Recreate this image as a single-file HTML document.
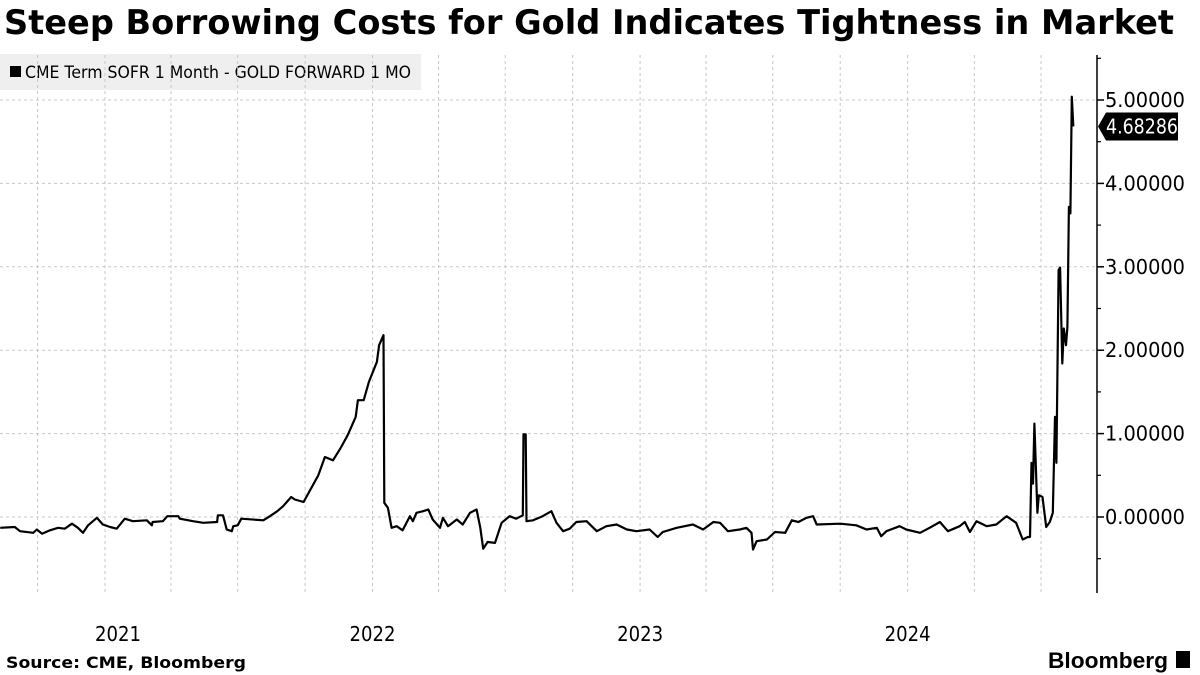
<!DOCTYPE html>
<html><head><meta charset="utf-8">
<style>
html,body{margin:0;padding:0;background:#fff;}
body{width:1200px;height:675px;overflow:hidden;position:relative;font-family:"Liberation Sans",sans-serif;}
svg{position:absolute;left:0;top:0;}
</style></head>
<body>
<svg id="chart" width="1200" height="675">
  <text x="4" y="34" font-size="34" font-weight="bold" font-family="DejaVu Sans, Liberation Sans, sans-serif" textLength="1170" lengthAdjust="spacingAndGlyphs">Steep Borrowing Costs for Gold Indicates Tightness in Market</text>
  <rect x="0" y="54" width="421" height="36" fill="#efefef"/>
  <rect x="10" y="66" width="11" height="11" fill="#000"/>
  <text x="25" y="78" font-size="17" font-family="DejaVu Sans, Liberation Sans, sans-serif" textLength="386" lengthAdjust="spacingAndGlyphs">CME Term SOFR 1 Month - GOLD FORWARD 1 MO</text>
  <text x="6" y="668" font-size="16" font-weight="bold" font-family="DejaVu Sans, Liberation Sans, sans-serif" textLength="240" lengthAdjust="spacingAndGlyphs">Source: CME, Bloomberg</text>
  <text x="1048" y="668" font-size="22" font-weight="bold" font-family="Liberation Sans, sans-serif" textLength="120" lengthAdjust="spacingAndGlyphs">Bloomberg</text>
  <rect x="1176" y="651" width="14" height="17" fill="#000"/>
</svg>
<script>
// days since 2021-01-01
const days = [-143,-123,-116,-98,-93,-86,-75,-64,-55,-45,-37,-30,-23,-11,-3,7,16,27,38,57,64,65,79,85,100,102,120,134,153,154,161,166,173,175,181,186,216,225,235,243,254,259,271,291,300,311,321,331,342,345,353,360,371,374,380,381,386,391,398,406,416,420,425,434,441,447,457,461,468,480,488,498,507,512,516,522,532,541,552,561,570,571,574,575,584,597,609,616,625,634,643,657,671,684,698,712,725,743,754,761,780,802,816,830,839,850,866,875,882,884,889,903,914,928,937,946,957,966,971,1003,1025,1039,1053,1059,1066,1084,1093,1112,1125,1139,1150,1166,1173,1180,1189,1203,1216,1230,1243,1252,1259,1262,1264,1266,1268,1272,1274,1279,1284,1289,1293,1296,1298,1301,1303,1306,1308,1311,1313,1315,1317,1319,1321];
const values = [-0.13,-0.12,-0.17,-0.19,-0.15,-0.20,-0.16,-0.13,-0.14,-0.08,-0.13,-0.19,-0.10,-0.01,-0.09,-0.12,-0.14,-0.02,-0.05,-0.04,-0.10,-0.06,-0.05,0.01,0.01,-0.02,-0.05,-0.07,-0.06,0.02,0.02,-0.15,-0.17,-0.11,-0.10,-0.02,-0.04,0.01,0.07,0.13,0.24,0.21,0.18,0.50,0.72,0.68,0.82,0.98,1.20,1.40,1.40,1.62,1.86,2.06,2.18,0.17,0.11,-0.13,-0.11,-0.16,0.01,-0.05,0.05,0.07,0.09,-0.03,-0.13,-0.01,-0.11,-0.03,-0.09,0.05,0.09,-0.13,-0.38,-0.30,-0.31,-0.07,0.01,-0.02,0.02,0.99,0.99,-0.05,-0.04,0.01,0.07,-0.07,-0.17,-0.14,-0.06,-0.05,-0.17,-0.11,-0.09,-0.15,-0.17,-0.15,-0.24,-0.18,-0.13,-0.09,-0.15,-0.06,-0.07,-0.17,-0.15,-0.13,-0.19,-0.39,-0.29,-0.27,-0.18,-0.19,-0.04,-0.06,-0.01,0.01,-0.09,-0.08,-0.10,-0.15,-0.13,-0.23,-0.17,-0.11,-0.15,-0.19,-0.13,-0.06,-0.17,-0.11,-0.06,-0.18,-0.05,-0.11,-0.09,0.01,-0.07,-0.27,-0.24,-0.24,0.65,0.40,1.12,0.05,0.26,0.24,-0.12,-0.06,0.05,1.20,0.65,2.96,2.99,1.84,2.26,2.06,2.28,3.72,3.64,5.04,4.68286];
const yTicks = [0,1,2,3,4,5];
const yTickLabels = ["0.00000","1.00000","2.00000","3.00000","4.00000","5.00000"];
const yearTicks = [0,365,730,1095];
const yearLabels = ["2021","2022","2023","2024"];
const quarterTicks = [-92,0,90,181,273,365,455,546,638,730,820,911,1003,1095,1186,1277];
const lastLabel = "4.68286";

const NS="http://www.w3.org/2000/svg";
const svg=document.getElementById('chart');
const X0=105, PXD=0.733, Y0=517, PXV=83.4, TOP=55, BOT=593, AX=1097;
const x=d=>X0+d*PXD;
const y=v=>Y0-v*PXV;
const FONT='DejaVu Sans, Liberation Sans, sans-serif';
function mk(tag,attrs){const e=document.createElementNS(NS,tag);for(const k in attrs)e.setAttribute(k,attrs[k]);svg.insertBefore(e,null);return e;}

quarterTicks.forEach(d=>{
  const xx=x(d); if(xx<0||xx>AX)return;
  const l=mk('line',{x1:xx,x2:xx,y1:TOP,y2:BOT,stroke:'#c8c8c8','stroke-width':1,'stroke-dasharray':'3,3'});
  
  
});
yTicks.forEach((v,i)=>{
  const l=mk('line',{x1:0,x2:AX,y1:y(v),y2:y(v),stroke:'#c8c8c8','stroke-width':1,'stroke-dasharray':'3,3'});
  
  
  const t=mk('line',{x1:AX,x2:AX+7,y1:y(v),y2:y(v),stroke:'#000','stroke-width':1.5});
  
  
  const tx=mk('text',{x:AX+8,y:y(v)+7,'font-size':20,'font-family':FONT,fill:'#000',textLength:80,lengthAdjust:'spacingAndGlyphs'});
  tx.textContent=yTickLabels[i];
  
  
});
for(let v=-0.5;v<=5.5;v+=1){
  const t=mk('line',{x1:AX,x2:AX+4,y1:y(v),y2:y(v),stroke:'#000','stroke-width':1.2});
  
  
}
const axis=mk('line',{x1:AX,x2:AX,y1:TOP,y2:BOT,stroke:'#000','stroke-width':1.5});



yearTicks.forEach((d,i)=>{
  const t=mk('text',{x:x(d)+(i===0?13:0),y:641,'font-size':20,'text-anchor':'middle','font-family':FONT,fill:'#000',textLength:46,lengthAdjust:'spacingAndGlyphs'});
  t.textContent=yearLabels[i];
  
  
});

let dstr='';
days.forEach((d,i)=>{dstr+=(i?'L':'M')+x(d).toFixed(1)+','+y(values[i]).toFixed(1);});
const p=mk('path',{d:dstr,fill:'none',stroke:'#000','stroke-width':2.2,'stroke-linejoin':'round'});



const ly=y(values[values.length-1]);
const lb=mk('polygon',{points:`${AX+1},${ly} ${AX+9},${ly-14} ${1178},${ly-14} ${1178},${ly+14} ${AX+9},${ly+14}`,fill:'#000'});


const lt=mk('text',{x:AX+9,y:ly+7,'font-size':20,'font-family':FONT,fill:'#fff',textLength:72,lengthAdjust:'spacingAndGlyphs'});
lt.textContent=lastLabel;


</script>
</body></html>
